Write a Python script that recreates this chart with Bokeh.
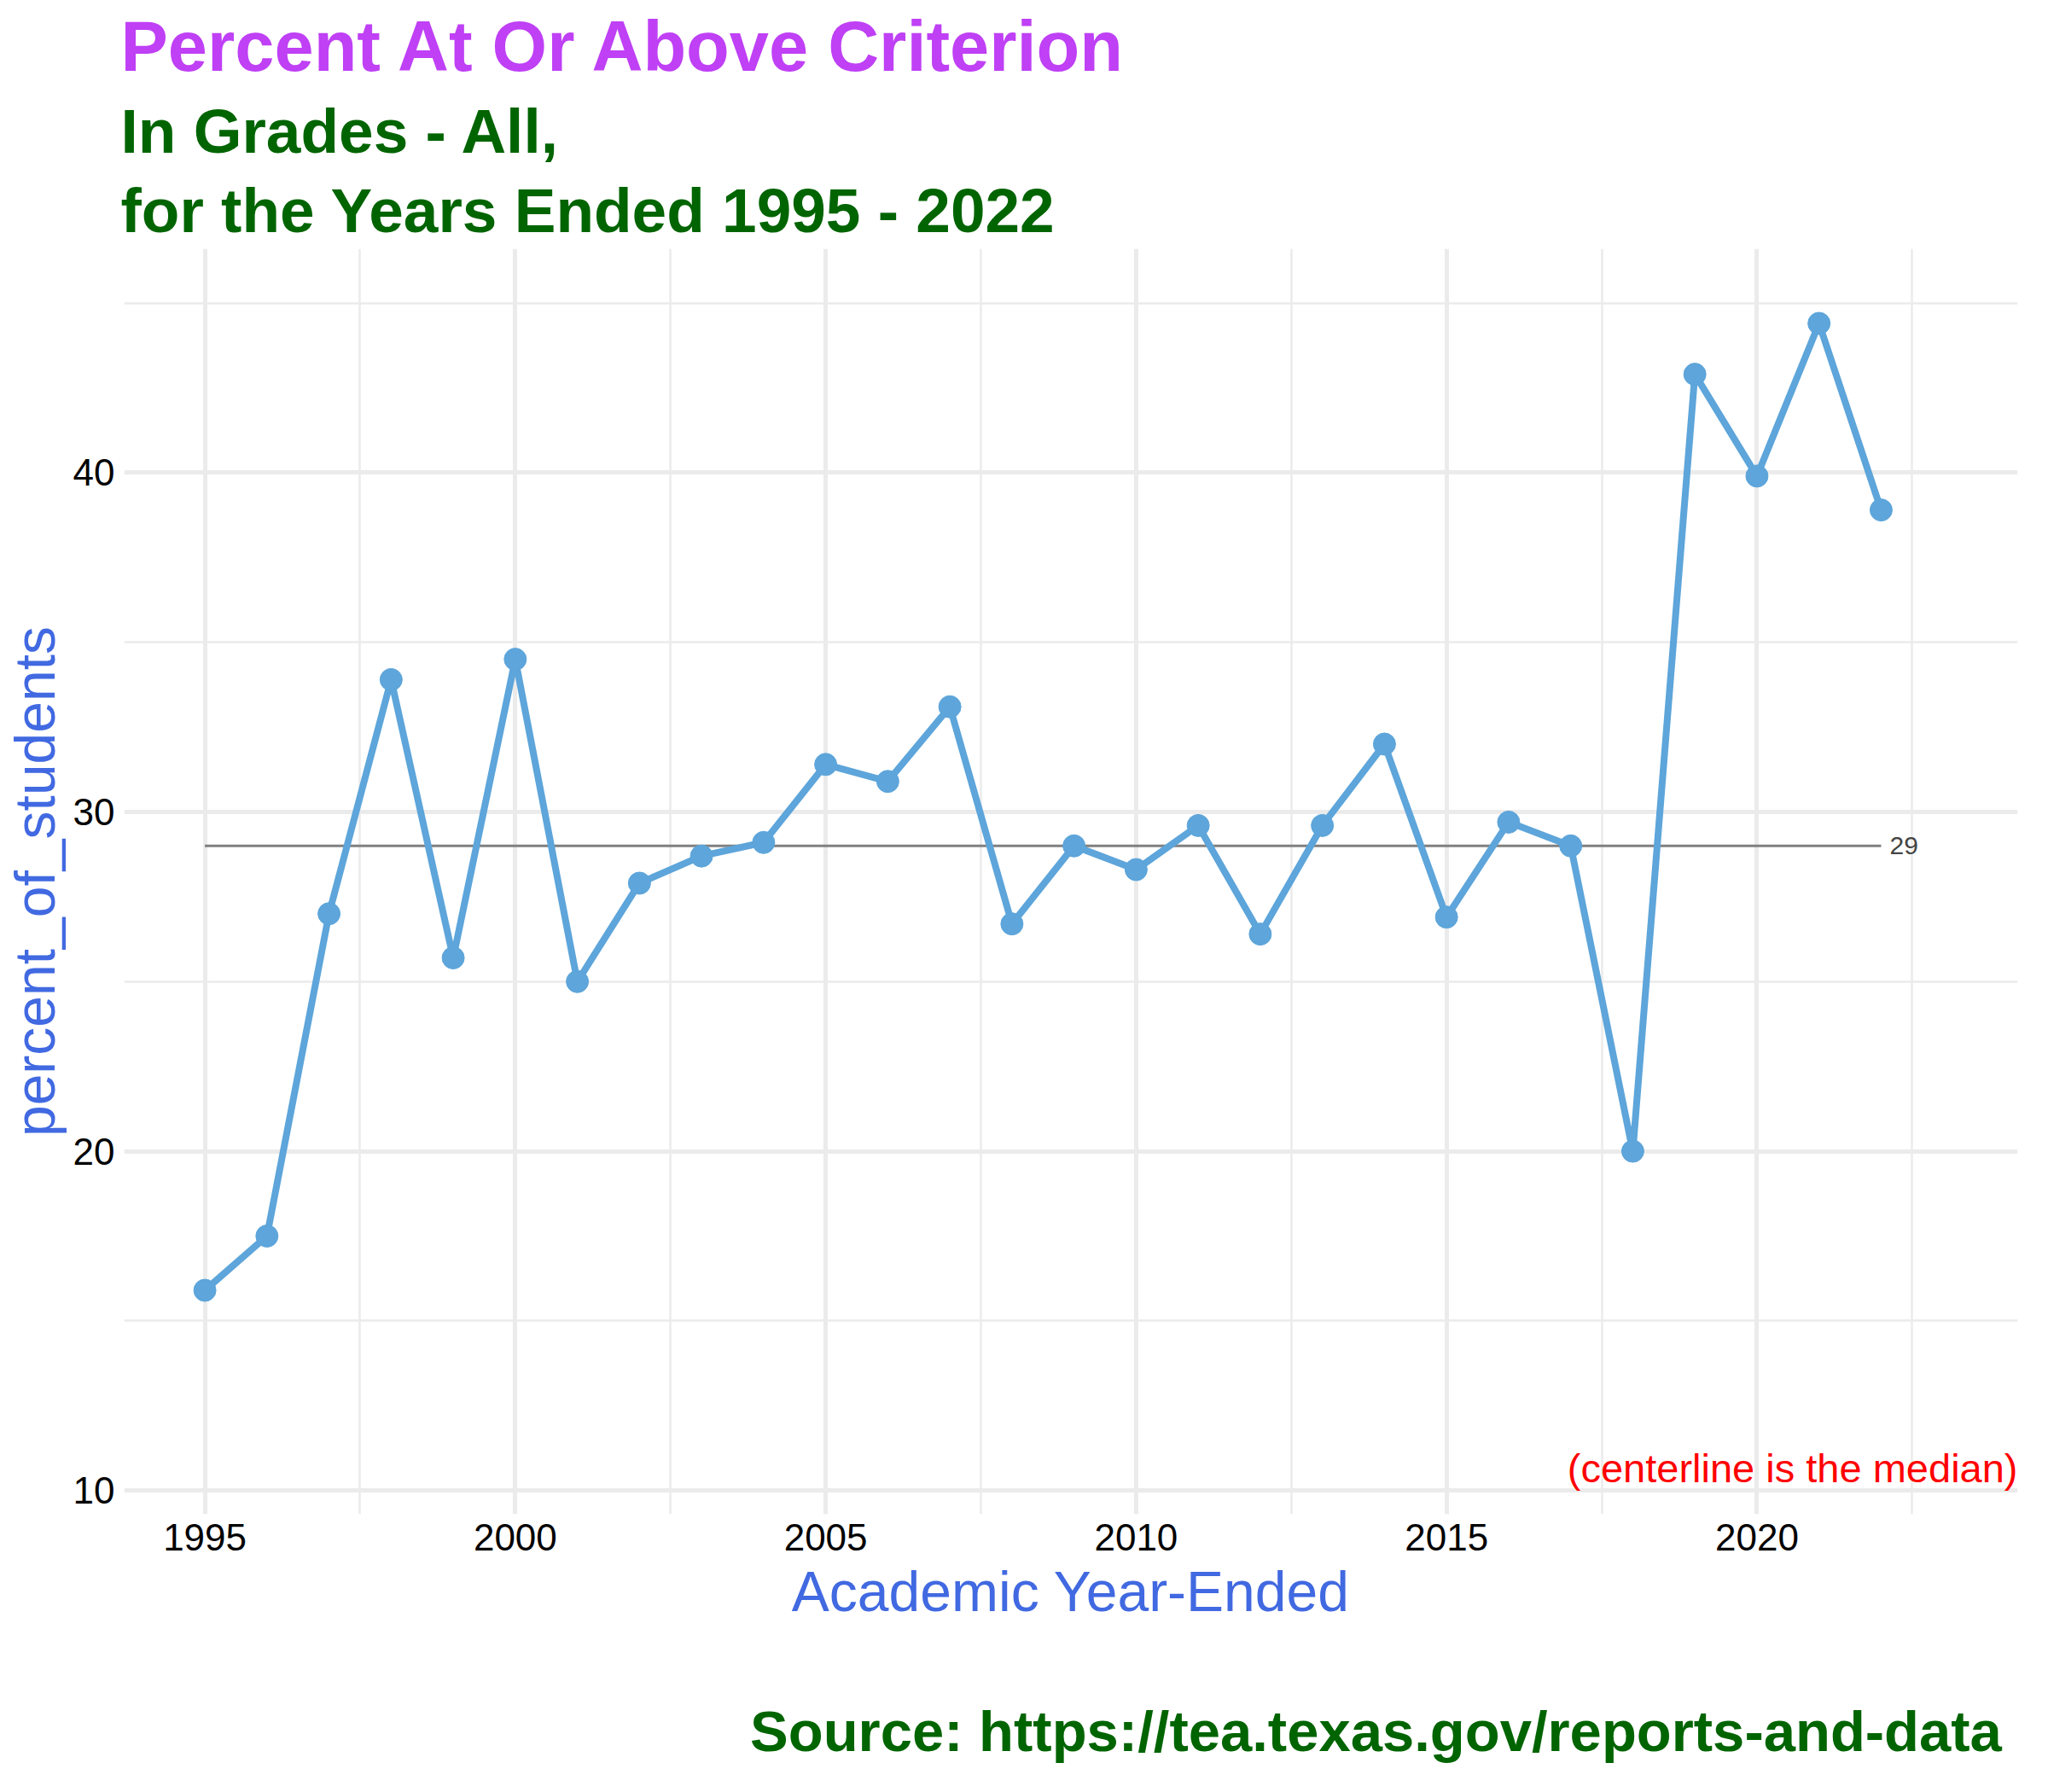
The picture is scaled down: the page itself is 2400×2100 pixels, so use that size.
from bokeh.plotting import figure
from bokeh.embed import file_html
from bokeh.resources import INLINE
from bokeh.models import Title, Label, Range1d, FixedTicker

years = list(range(1995, 2023))
percent = [15.9, 17.5, 27.0, 33.9, 25.7, 34.5, 25.0, 27.9, 28.7, 29.1,
           31.4, 30.9, 33.1, 26.7, 29.0, 28.3, 29.6, 26.4, 29.6, 32.0,
           26.9, 29.7, 29.0, 20.0, 42.9, 39.9, 44.4, 38.9]
median_value = 29
x_ticks = [1995, 2000, 2005, 2010, 2015, 2020]
y_ticks = [10, 20, 30, 40]

FONT = "Liberation Sans"

p = figure(width=2384, height=2070, output_backend="svg", toolbar_location=None,
           x_range=Range1d(1993.7, 2024.2), y_range=Range1d(9.3, 46.6),
           min_border_left=40, min_border_right=20, min_border_top=20, min_border_bottom=30)
p.outline_line_color = None
p.background_fill_color = "white"

p.add_layout(Title(text="for the Years Ended 1995 - 2022", text_font=FONT, text_font_size="73px",
                   text_color="#006400", text_font_style="bold", offset=-4), "above")
p.add_layout(Title(text="In Grades - All,", text_font=FONT, text_font_size="73px",
                   text_color="#006400", text_font_style="bold", offset=-4), "above")
p.add_layout(Title(text="Percent At Or Above Criterion", text_font=FONT, text_font_size="83px",
                   text_color="#BF40F5", text_font_style="bold", offset=-4), "above")
p.add_layout(Title(text=" ", text_font=FONT, text_font_size="60px"), "below")
p.add_layout(Title(text="Source:  https://tea.texas.gov/reports-and-data", text_font=FONT,
                   text_font_size="67px", text_color="#006400", text_font_style="bold",
                   align="right"), "below")

for ax in (p.xaxis, p.yaxis):
    ax.axis_line_color = None
    ax.major_tick_line_color = None
    ax.minor_tick_line_color = None
    ax.major_label_text_font = FONT
    ax.major_label_text_font_size = "44px"
    ax.major_label_text_color = "black"
    ax.axis_label_text_font = FONT
    ax.axis_label_text_font_size = "66px"
    ax.axis_label_text_color = "#4169E1"
    ax.axis_label_text_font_style = "normal"
p.xaxis.ticker = FixedTicker(ticks=x_ticks, minor_ticks=[1997.5, 2002.5, 2007.5, 2012.5, 2017.5, 2022.5])
p.yaxis.ticker = FixedTicker(ticks=y_ticks, minor_ticks=[15, 25, 35, 45])
p.xaxis.axis_label = "Academic Year-Ended"
p.yaxis.axis_label = "percent_of_students"
p.xaxis.axis_label_standoff = 8

for g in (p.xgrid, p.ygrid):
    g.grid_line_color = "#EBEBEB"
    g.grid_line_width = 5
    g.minor_grid_line_color = "#EBEBEB"
    g.minor_grid_line_width = 2.5

p.line([years[0], years[-1]], [median_value, median_value], line_color="#808080", line_width=3)
p.add_layout(Label(x=years[-1], y=median_value, text=str(median_value), x_offset=10,
                   text_baseline="middle", text_font=FONT, text_font_size="30px"))

p.line(years, percent, line_color="#5DA5DA", line_width=8)
p.scatter(years, percent, size=26, fill_color="#5DA5DA", line_color="#5DA5DA")

p.add_layout(Label(x=2024.2, y=10, text="(centerline is the median)", text_align="right",
                   text_baseline="bottom", text_font=FONT, text_font_size="47px",
                   text_color="red"))

open("out.html", "w").write(file_html(p, INLINE))
